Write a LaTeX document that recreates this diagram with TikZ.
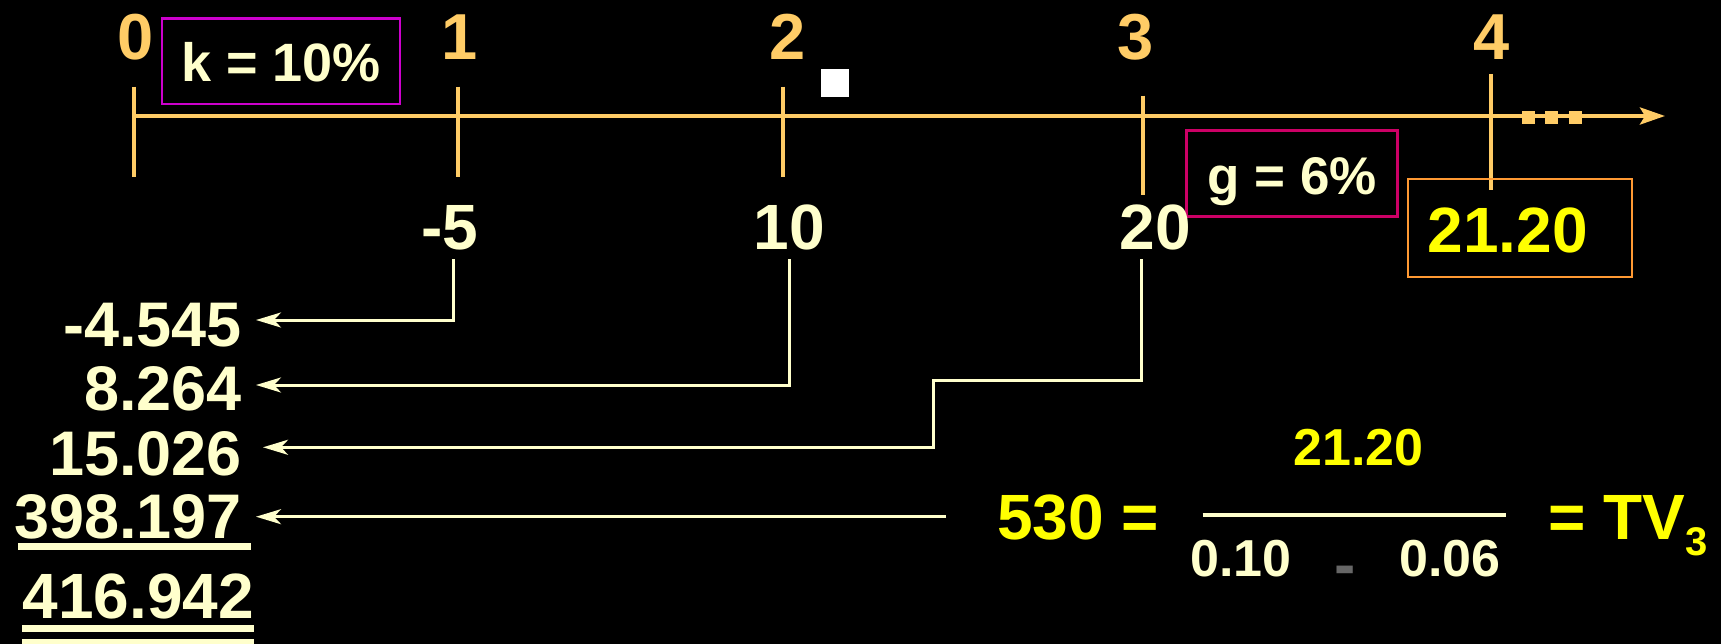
\documentclass[tikz,border=0pt]{standalone}
\usepackage{fontspec}
\setmainfont{Liberation Sans}
\usetikzlibrary{arrows.meta}
\definecolor{axisc}{RGB}{255,204,102}
\definecolor{lyel}{RGB}{255,255,204}
\definecolor{yel}{RGB}{255,255,0}
\definecolor{kbc}{RGB}{204,0,204}
\definecolor{gbc}{RGB}{204,0,102}
\definecolor{obc}{RGB}{255,153,51}
\definecolor{grayc}{RGB}{102,102,102}
\tikzset{
  fs/.style={font=\fontsize{#1}{#1}\selectfont\bfseries},
  lab/.style={fs=65, text=axisc, anchor=base, inner sep=0pt},
  val/.style={fs=64, text=lyel, anchor=base, inner sep=0pt},
  col/.style={fs=63, text=lyel, anchor=base east, inner sep=0pt},
  axisline/.style={draw=axisc, line width=4pt},
  tick/.style={draw=axisc, line width=4pt},
  conn/.style={draw=lyel, line width=3pt, -{Stealth[length=25pt,width=15pt,inset=7pt]}},
  uline/.style={draw=lyel, line width=6.6pt},
  ratebox/.style={inner sep=0pt, text=lyel, line width=2.5pt, text depth=0pt},
}
\begin{document}
\begin{tikzpicture}[x=1pt,y=-1pt]
\useasboundingbox (0,0) rectangle (1721,644);
\fill[black] (0,0) rectangle (1721,644);
\clip (0,0) rectangle (1721,644);
% time axis
\draw[axisline, -{Stealth[length=25pt,width=17pt,inset=5pt]}] (134,116) -- (1665,116);
\draw[tick] (134,86.7) -- (134,176.7);
\draw[tick] (458,86.7) -- (458,176.7);
\draw[tick] (783,86.7) -- (783,176.7);
\draw[tick] (1143,95.7) -- (1143,195);
\draw[tick] (1491,74) -- (1491,190);
\fill[axisc] (1522,111) rectangle (1534.6,123.7);
\fill[axisc] (1545,111) rectangle (1557.5,123.7);
\fill[axisc] (1569,111) rectangle (1581.5,123.7);
\fill[white] (821,69) rectangle (848.7,96.7);
% period labels
\node[lab] (l0) at (136,60) {0};
\node[lab] (l1) at (460,60) {1};
\node[lab] (l2) at (787.5,60) {2};
\node[lab] (l3) at (1136,60) {3};
\node[lab] (l4) at (1492,60) {4};
% rate boxes
\node[ratebox, draw=kbc, fs=54, minimum width=238pt, minimum height=85.3pt, text height=41pt] (k) at (281,61.3) {k = 10\%};
\node[ratebox, draw=gbc, fs=53, minimum width=211.2pt, minimum height=86pt, text height=42pt] (g) at (1292,173.7) {g = 6\%};
\node[inner xsep=20pt, inner ysep=0pt, draw=obc, line width=2pt, fs=64, text=yel, text width=184pt, align=left, minimum height=98pt, text height=48.6pt, text depth=0pt] (c4) at (1519.8,228) {21.20};
% cash flows
\node[val] (m5) at (450,249.3) {-5};
\node[val] (m10) at (789.5,249.3) {10};
\node[val] (m20) at (1155.5,249.3) {20};
% present values
\node[col] (v1) at (242,346.7) {-4.545};
\node[col] (v2) at (242,410.7) {8.264};
\node[col] (v3) at (242,475) {15.026};
\node[col] (v4) at (242,538.3) {398.197};
\node[col, fs=64] (v5) at (254,618.3) {416.942};
\draw[uline] (18.4,546.7) -- (250.7,546.7);
\draw[uline] (21.8,628.3) -- (253.7,628.3);
\draw[uline] (21.8,642) -- (253.7,642);
% terminal value formula
\node[fs=64, text=yel, anchor=base west, inner sep=0pt] (eq) at (997,539.3) {530 =};
\node[fs=52, text=yel, anchor=base, inner sep=0pt] (num) at (1358.6,465) {21.20};
\draw[draw=lyel, line width=4pt] (1202.6,515) -- (1506.3,515);
\node[fs=52, text=lyel, anchor=base, inner sep=0pt] (d1) at (1241,576.7) {0.10};
\node[fs=64, text=grayc, anchor=base, inner sep=0pt] (mn) at (1344.7,586) {-};
\node[fs=52, text=lyel, anchor=base, inner sep=0pt] (d2) at (1449.75,576.7) {0.06};
\node[fs=64, text=yel, anchor=base west, inner sep=0pt] (tv) at (1548,539.3) {= TV\raisebox{-15.7pt}{\fontsize{40}{40}\selectfont\bfseries 3}};
% connectors
\coordinate (a1) at (256,320);
\coordinate (a2) at (256,385);
\coordinate (a3) at (263,447.3);
\coordinate (a4) at (256,516.7);
\coordinate (c1) at (933.7,380);
\coordinate (s4) at (946,516.7);
\draw[conn] ([xshift=3pt,yshift=-10pt]m5.base) |- (a1);
\draw[conn] ([yshift=-10pt]m10.base) |- (a2);
\draw[conn] ([xshift=-14pt,yshift=-10pt]m20.base) |- (c1) |- (a3);
\draw[conn] (s4) -- (a4);
\end{tikzpicture}
\end{document}
